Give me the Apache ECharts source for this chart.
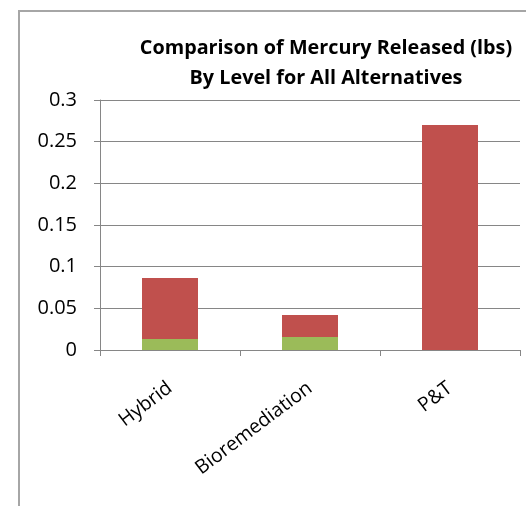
<!DOCTYPE html>
<html><head><meta charset="utf-8">
<script src="https://cdn.jsdelivr.net/npm/echarts@6/dist/echarts.min.js"></script>
<style>html,body{margin:0;padding:0;background:#fff}#c{width:526px;height:506px}</style>
</head><body><div id="c"></div>
<script>
const categories = ['Hybrid', 'Bioremediation', 'P&T'];
const lowerLevel = [0.0132, 0.0156, 0];
const upperLevel = [0.0732, 0.0264, 0.27];
const yTicks = [0, 0.05, 0.1, 0.15, 0.2, 0.25, 0.3];

const chart = echarts.init(document.getElementById('c'), null, {renderer: 'canvas'});
const font = '"Open Sans", sans-serif';
chart.setOption({
  animation: false,
  backgroundColor: '#fff',
  graphic: [{
    type: 'rect', shape: {x: 19, y: 11, width: 700, height: 700},
    style: {fill: 'none', stroke: '#a6a6a6', lineWidth: 2}, silent: true
  }],
  title: {
    text: 'Comparison of Mercury Released (lbs)\nBy Level for All Alternatives',
    left: 321, top: 28, textAlign: 'center',
    textStyle: {fontFamily: font, fontWeight: 'bold', fontSize: 19.8, lineHeight: 30, color: '#000'}
  },
  grid: {left: 100, right: 6, top: 100, bottom: 156, containLabel: false},
  xAxis: {
    type: 'category', data: categories,
    axisLine: {lineStyle: {color: '#868686', width: 1}},
    axisTick: {show: true, length: 6, lineStyle: {color: '#868686'}},
    axisLabel: {rotate: 37, margin: 36, fontFamily: font, fontSize: 19.5, color: '#000'}
  },
  yAxis: {
    type: 'value', min: yTicks[0], max: yTicks[yTicks.length - 1], interval: 0.05,
    axisLine: {show: true, lineStyle: {color: '#868686', width: 1}},
    axisTick: {show: true, length: 6, lineStyle: {color: '#868686'}},
    splitLine: {lineStyle: {color: '#868686', width: 1}},
    axisLabel: {margin: 23, fontFamily: font, fontSize: 20, color: '#000',
      formatter: v => String(Math.round(v * 100) / 100)}
  },
  series: [
    {name: 'Lower Level', type: 'bar', stack: 'hg', data: lowerLevel, barWidth: '40%',
     itemStyle: {color: '#9BBB59'}},
    {name: 'Upper Level', type: 'bar', stack: 'hg', data: upperLevel, barWidth: '40%',
     itemStyle: {color: '#C0504D'}}
  ]
});
</script></body></html>
